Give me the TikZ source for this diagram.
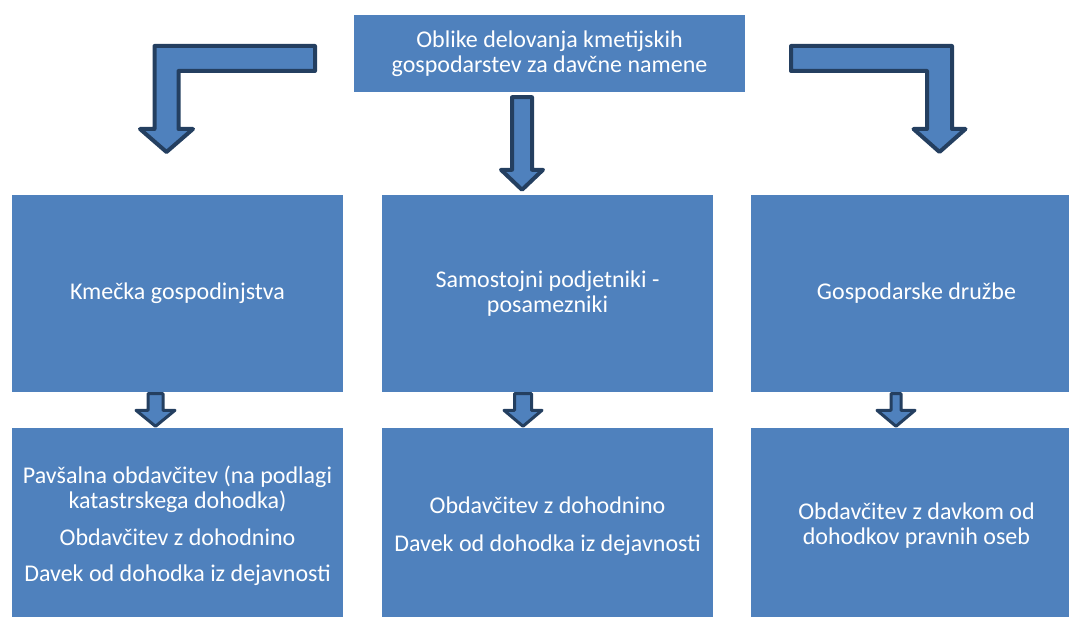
\documentclass[tikz,border=0pt]{standalone}
\usepackage{fontspec}
\setmainfont{Carlito}
\usetikzlibrary{calc}
\definecolor{modra}{HTML}{4F81BD}
\definecolor{temna}{HTML}{243F60}
\tikzset{
  skatla/.style={fill=modra, inner sep=0pt, text=white, align=center},
  puscica/.style={draw=temna, fill=modra, line width=4pt, line join=round},
}
% ravna puscica od spodnjega roba ene skatle do zgornjega roba druge
% [razmik]{od}{do}{zamik x}{pol debla}{pol glave}{dolzina glave}
\newcommand{\pusica}[7][2]{%
  \draw[puscica] let \p1=($(#2.south)+(#4,0)$), \p2=(#3.north) in
    (\x1-#5pt,\y1-#1pt) -- (\x1+#5pt,\y1-#1pt) -- (\x1+#5pt,\y2+#1pt+#7pt)
    -- (\x1+#6pt,\y2+#1pt+#7pt) -- (\x1,\y2+#1pt) -- (\x1-#6pt,\y2+#1pt+#7pt)
    -- (\x1-#5pt,\y2+#1pt+#7pt) -- cycle;}
\begin{document}
\begin{tikzpicture}[x=1pt, y=-1pt, every node/.style={font=\fontsize{24}{25}\selectfont}]
    \clip (0,0) rectangle (1069,617);

    % Vrh
    \node[skatla, minimum width=391pt, minimum height=77pt] (vrh) at (549.5,53.5)
        {Oblike delovanja kmetijskih\\gospodarstev za dav\v{c}ne namene};

    % Srednja vrsta
    \node[skatla, minimum width=331pt, minimum height=197pt] (kg) at (177.5,293.5)
        {Kme\v{c}ka gospodinjstva};
    \node[skatla, minimum width=331pt, minimum height=197pt] (sp) at (547.5,293.5)
        {Samostojni podjetniki -\\posamezniki};
    \node[skatla, minimum width=331pt, minimum height=197pt] (gd) at (916.5,293.5)
        {Gospodarske dru\v{z}be};

    % Spodnja vrsta
    \node[skatla, minimum width=331pt, minimum height=196pt] (kgd) at (177.5,526)
        {Pav\v{s}alna obdav\v{c}itev (na podlagi\\katastrskega dohodka)\\[12pt]
         Obdav\v{c}itev z dohodnino\\[11pt]Davek od dohodka iz dejavnosti};
    \node[skatla, minimum width=331pt, minimum height=196pt] (spd) at (547.5,526)
        {Obdav\v{c}itev z dohodnino\\[13pt]Davek od dohodka iz dejavnosti};
    \node[skatla, minimum width=331pt, minimum height=196pt] (gdd) at (916.5,526)
        {Obdav\v{c}itev z davkom od\\dohodkov pravnih oseb};

    % Zavite puscice
    \coordinate (lz) at (315,58.5);
    \coordinate (lk) at (166.5,152);
    \coordinate (dz) at (791,58.5);
    \coordinate (dk) at (939.5,152);
    \draw[puscica] let \p1=(lz), \p2=(lk) in
        (\x1,\y1+12.5pt) -- (\x2-12pt,\y1+12.5pt) -- (\x2-12pt,\y2+23pt) -- (\x2-26.5pt,\y2+23pt)
        -- (\x2,\y2) -- (\x2+26.5pt,\y2+23pt) -- (\x2+12pt,\y2+23pt) -- (\x2+12pt,\y1-12.5pt)
        -- (\x1,\y1-12.5pt) -- cycle;
    \draw[puscica] let \p1=(dz), \p2=(dk) in
        (\x1,\y1+12.5pt) -- (\x2+12.5pt,\y1+12.5pt) -- (\x2+12.5pt,\y2+23pt) -- (\x2+26pt,\y2+23pt)
        -- (\x2,\y2) -- (\x2-26pt,\y2+23pt) -- (\x2-12.5pt,\y2+23pt) -- (\x2-12.5pt,\y1-12.5pt)
        -- (\x1,\y1-12.5pt) -- cycle;

    % Ravne puscice
    \pusica[5]{vrh}{sp}{-27.5}{10}{21}{20}
    \begin{scope}[puscica/.append style={line width=3pt}]
        \pusica[1.5]{kg}{kgd}{-22}{7.5}{19.5}{16}
        \pusica[1.5]{sp}{spd}{-24.5}{8.5}{19}{16}
        \pusica[1.5]{gd}{gdd}{-20.5}{5}{19}{16}
    \end{scope}

\end{tikzpicture}
\end{document}
